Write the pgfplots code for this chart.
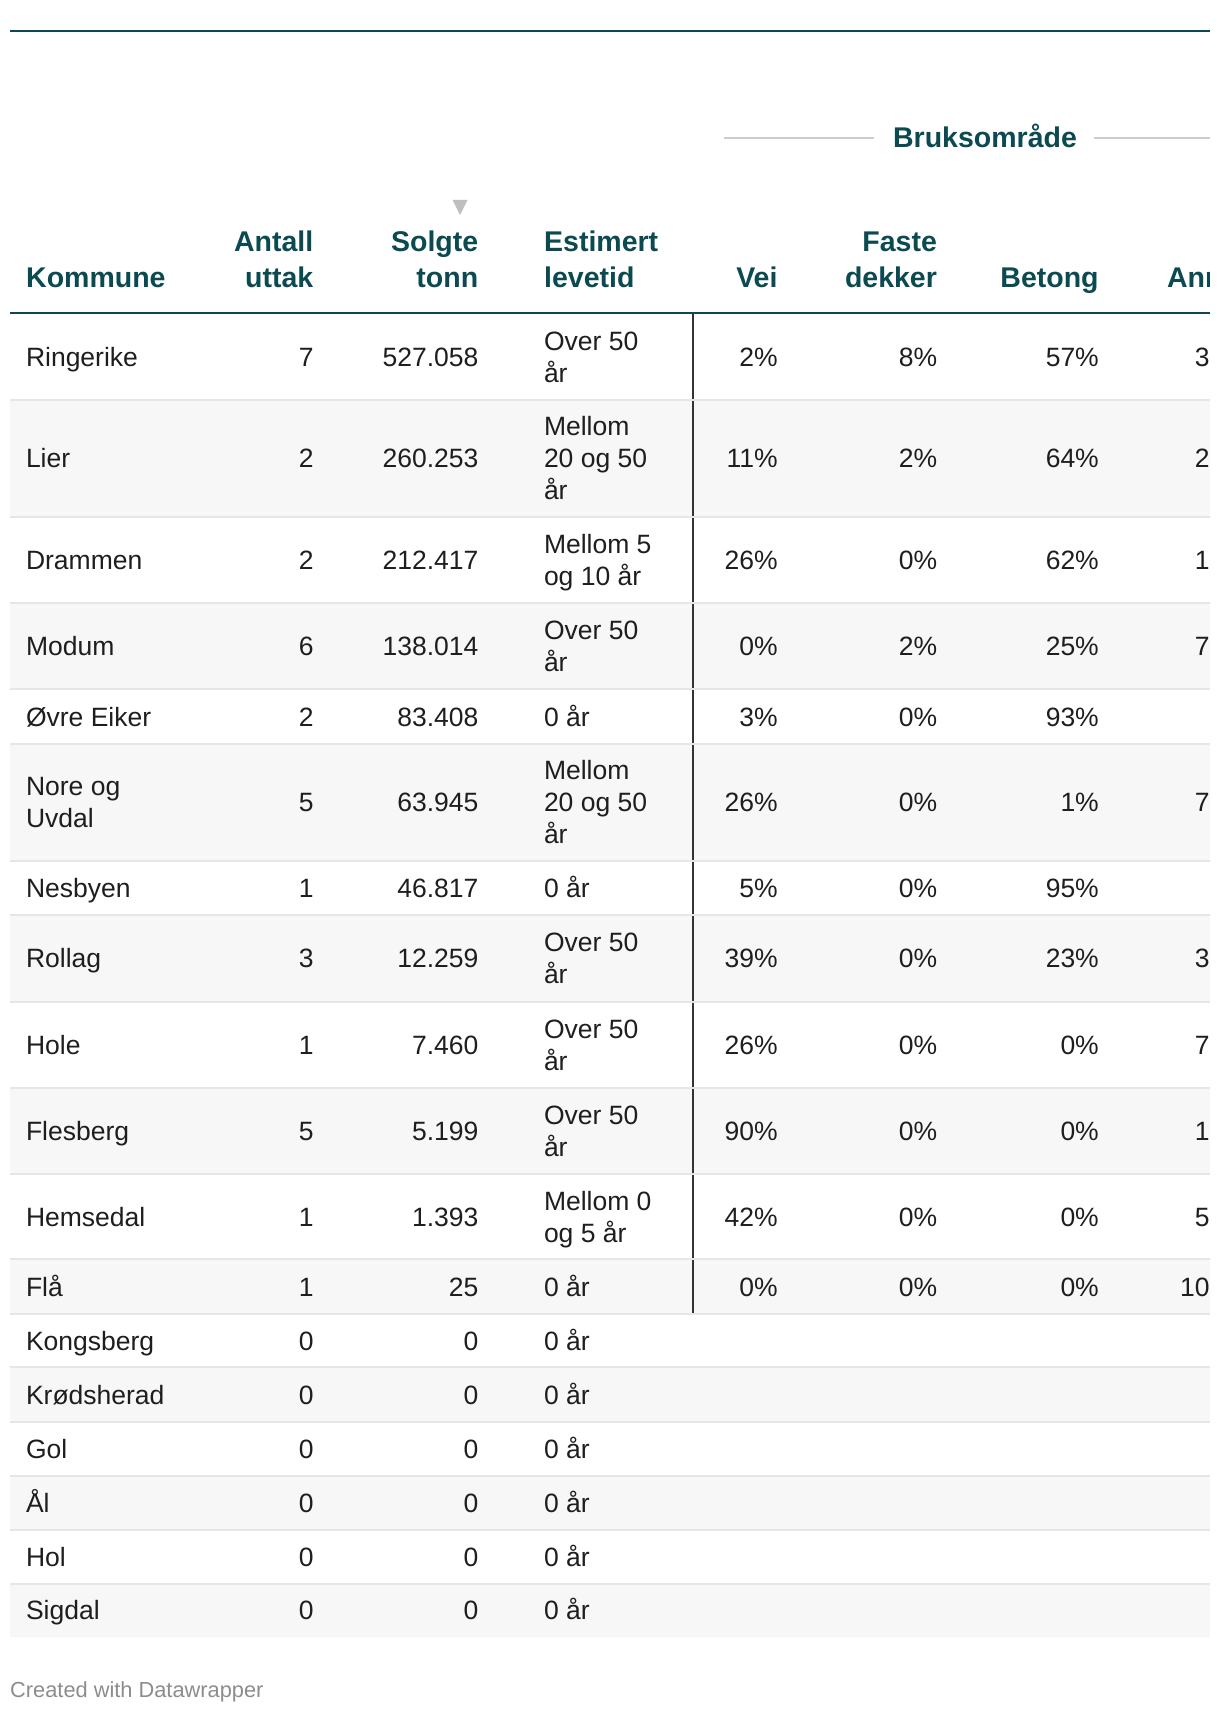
\documentclass[border=0pt]{standalone}
\usepackage{pgfplots}
\pgfplotsset{compat=1.18}
\usepackage{pgfplotstable}
\usepackage{fontspec}
\setmainfont{Liberation Sans}

\definecolor{dwteal}{HTML}{0B4A50}
\definecolor{body}{HTML}{1E1E1E}
\definecolor{shade}{HTML}{F7F7F7}
\definecolor{sep}{HTML}{E6E6E6}
\definecolor{divider}{HTML}{333333}
\definecolor{grouprule}{HTML}{CCCCCC}
\definecolor{sortmark}{HTML}{BFBFBF}
\definecolor{foot}{HTML}{8C8C8C}

% line break inside a cell, kept from expanding
\protected\def\nl{\\}

% one row per kommune; top/bot = row edges in px (y downwards)
\pgfplotstableread[col sep=semicolon]{
name;top;bot;antall;tonn;lev;vei;faste;betong;annet
Ringerike;313.5;399.7;7;527.058;Over 50\nl år;2;8;57;34
Lier;399.7;516.6;2;260.253;Mellom\nl 20 og 50\nl år;11;2;64;23
Drammen;516.6;602.9;2;212.417;Mellom 5\nl og 10 år;26;0;62;12
Modum;602.9;689.2;6;138.014;Over 50\nl år;0;2;25;73
Øvre Eiker;689.2;743.8;2;83.408;0 år;3;0;93;4
Nore og\nl Uvdal;743.8;860.7;5;63.945;Mellom\nl 20 og 50\nl år;26;0;1;73
Nesbyen;860.7;915.3;1;46.817;0 år;5;0;95;0
Rollag;915.3;1001.6;3;12.259;Over 50\nl år;39;0;23;38
Hole;1001.6;1087.8;1;7.460;Over 50\nl år;26;0;0;74
Flesberg;1087.8;1174.1;5;5.199;Over 50\nl år;90;0;0;10
Hemsedal;1174.1;1259.3;1;1.393;Mellom 0\nl og 5 år;42;0;0;58
Flå;1259.3;1313.9;1;25;0 år;0;0;0;100
Kongsberg;1313.9;1367.4;0;0;0 år;;;;
Krødsherad;1367.4;1422.0;0;0;0 år;;;;
Gol;1422.0;1475.6;0;0;0 år;;;;
Ål;1475.6;1530.2;0;0;0 år;;;;
Hol;1530.2;1583.7;0;0;0 år;;;;
Sigdal;1583.7;1637.2;0;0;0 år;;;;
}\kommuner

\newcommand{\hd}{\bfseries\fontsize{28.5}{36}\selectfont}

\begin{document}
\begin{tikzpicture}
\begin{axis}[
  width=1220pt, height=1712pt, scale only axis,
  xmin=0, xmax=1220, ymin=0, ymax=1712, y dir=reverse,
  axis lines=none, clip=false,
  every node near coord/.append style={inner sep=0pt, outer sep=0pt,
    text=body, font=\fontsize{26.5}{32}\selectfont},
  point meta=explicit symbolic,
]
% striped rows
\addplot[fill=shade, draw=none, unbounded coords=jump] coordinates {
  (10,399.7) (1210,399.7) (1210,516.6) (10,516.6) (nan,nan)
  (10,602.9) (1210,602.9) (1210,689.2) (10,689.2) (nan,nan)
  (10,743.8) (1210,743.8) (1210,860.7) (10,860.7) (nan,nan)
  (10,915.3) (1210,915.3) (1210,1001.6) (10,1001.6) (nan,nan)
  (10,1087.8) (1210,1087.8) (1210,1174.1) (10,1174.1) (nan,nan)
  (10,1259.3) (1210,1259.3) (1210,1313.9) (10,1313.9) (nan,nan)
  (10,1367.4) (1210,1367.4) (1210,1422.0) (10,1422.0) (nan,nan)
  (10,1475.6) (1210,1475.6) (1210,1530.2) (10,1530.2) (nan,nan)
  (10,1583.7) (1210,1583.7) (1210,1637.2) (10,1637.2)};
% divider before Bruksområde
\addplot[draw=divider, line width=2pt] coordinates {(692.5,313.5) (692.5,1313.9)};
% row separators
\addplot[draw=sep, line width=2pt, unbounded coords=jump] coordinates {
  (10,399.7) (1210,399.7) (nan,nan) (10,516.6) (1210,516.6) (nan,nan)
  (10,602.9) (1210,602.9) (nan,nan) (10,689.2) (1210,689.2) (nan,nan)
  (10,743.8) (1210,743.8) (nan,nan) (10,860.7) (1210,860.7) (nan,nan)
  (10,915.3) (1210,915.3) (nan,nan) (10,1001.6) (1210,1001.6) (nan,nan)
  (10,1087.8) (1210,1087.8) (nan,nan) (10,1174.1) (1210,1174.1) (nan,nan)
  (10,1259.3) (1210,1259.3) (nan,nan) (10,1313.9) (1210,1313.9) (nan,nan)
  (10,1367.4) (1210,1367.4) (nan,nan) (10,1422.0) (1210,1422.0) (nan,nan)
  (10,1475.6) (1210,1475.6) (nan,nan) (10,1530.2) (1210,1530.2) (nan,nan)
  (10,1583.7) (1210,1583.7)};
% header rules
\addplot[draw=dwteal, line width=2pt] coordinates {(10,30.6) (1210,30.6)};
\addplot[draw=dwteal, line width=2pt] coordinates {(10,312.7) (1210,312.7)};
\addplot[draw=grouprule, line width=2pt] coordinates {(724,138.3) (874,138.3)};
\addplot[draw=grouprule, line width=2pt] coordinates {(1094,138.3) (1210,138.3)};
% sort marker
\addplot[fill=sortmark, draw=none] coordinates {(452.5,200) (467.5,200) (460,215)} --cycle;

% cells
\addplot[draw=none, every node near coord/.append style={anchor=west},
  nodes near coords={\begin{tabular}{@{}l@{}}\pgfplotspointmeta\end{tabular}}]
  table[x expr=26, y expr=\thisrow{top}/2+\thisrow{bot}/2+3.1, meta=name] {\kommuner};
\addplot[draw=none, every node near coord/.append style={anchor=east},
  nodes near coords={\begin{tabular}{@{}r@{}}\pgfplotspointmeta\end{tabular}}]
  table[x expr=313.5, y expr=\thisrow{top}/2+\thisrow{bot}/2+3.1, meta=antall] {\kommuner};
\addplot[draw=none, every node near coord/.append style={anchor=east},
  nodes near coords={\begin{tabular}{@{}r@{}}\pgfplotspointmeta\end{tabular}}]
  table[x expr=478.4, y expr=\thisrow{top}/2+\thisrow{bot}/2+3.1, meta=tonn] {\kommuner};
\addplot[draw=none, every node near coord/.append style={anchor=west},
  nodes near coords={\begin{tabular}{@{}l@{}}\pgfplotspointmeta\end{tabular}}]
  table[x expr=544, y expr=\thisrow{top}/2+\thisrow{bot}/2+3.1, meta=lev] {\kommuner};
\addplot[draw=none, skip coords between index={12}{18}, every node near coord/.append style={anchor=east},
  nodes near coords={\begin{tabular}{@{}r@{}}\pgfplotspointmeta\%\end{tabular}}]
  table[x expr=777.7, y expr=\thisrow{top}/2+\thisrow{bot}/2+3.1, meta=vei] {\kommuner};
\addplot[draw=none, skip coords between index={12}{18}, every node near coord/.append style={anchor=east},
  nodes near coords={\begin{tabular}{@{}r@{}}\pgfplotspointmeta\%\end{tabular}}]
  table[x expr=937.1, y expr=\thisrow{top}/2+\thisrow{bot}/2+3.1, meta=faste] {\kommuner};
\addplot[draw=none, skip coords between index={12}{18}, every node near coord/.append style={anchor=east},
  nodes near coords={\begin{tabular}{@{}r@{}}\pgfplotspointmeta\%\end{tabular}}]
  table[x expr=1098.8, y expr=\thisrow{top}/2+\thisrow{bot}/2+3.1, meta=betong] {\kommuner};
\addplot[draw=none, skip coords between index={12}{18}, every node near coord/.append style={anchor=east},
  nodes near coords={\begin{tabular}{@{}r@{}}\pgfplotspointmeta\%\end{tabular}}]
  table[x expr=1248, y expr=\thisrow{top}/2+\thisrow{bot}/2+3.1, meta=annet] {\kommuner};

% column headers
\begin{scope}[every node/.style={inner sep=0pt, text=dwteal, font=\hd}]
\node[anchor=base] at (axis cs:985,147.7) {Bruksområde};
\node[anchor=base west] at (axis cs:26,287.3) {Kommune};
\node[anchor=base east] at (axis cs:313.5,287.3) {\begin{tabular}[b]{@{}r@{}}Antall\\uttak\end{tabular}};
\node[anchor=base east] at (axis cs:478.4,287.3) {\begin{tabular}[b]{@{}r@{}}Solgte\\tonn\end{tabular}};
\node[anchor=base west] at (axis cs:544,287.3) {\begin{tabular}[b]{@{}l@{}}Estimert\\levetid\end{tabular}};
\node[anchor=base east] at (axis cs:777.7,287.3) {Vei};
\node[anchor=base east] at (axis cs:937.1,287.3) {\begin{tabular}[b]{@{}r@{}}Faste\\dekker\end{tabular}};
\node[anchor=base east] at (axis cs:1098.8,287.3) {Betong};
\node[anchor=base east] at (axis cs:1248,287.3) {Annet};
\end{scope}
\node[anchor=base west, inner sep=0pt, text=foot, font=\fontsize{21.8}{26}\selectfont]
  at (axis cs:10,1697) {Created with Datawrapper};
\end{axis}
% the table is cut off at the right edge
\fill[white] ([xshift=-10pt]current axis.north east) rectangle ([xshift=80pt]current axis.south east);
\pgfresetboundingbox
\path[use as bounding box] (current axis.south west) rectangle (current axis.north east);
\end{tikzpicture}
\end{document}
